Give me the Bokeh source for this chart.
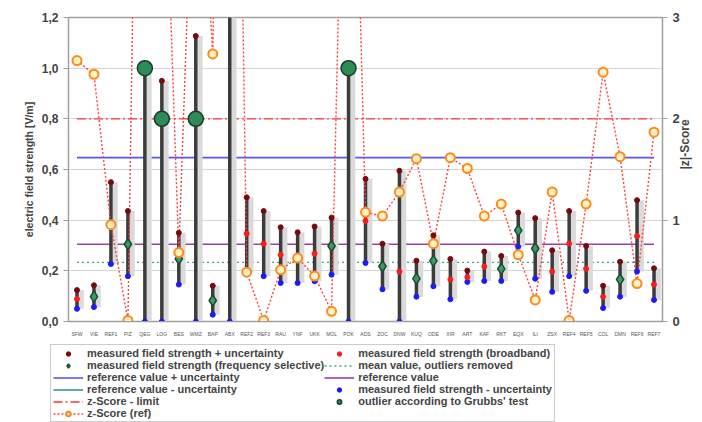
import math
from bokeh.plotting import figure
from bokeh.layouts import column
from bokeh.models import (Range1d, LinearAxis, FixedTicker, CustomJSTickFormatter,
                          Legend, LegendItem, ColumnDataSource, FactorRange)
from bokeh.transform import dodge
from bokeh.embed import file_html
from bokeh.resources import INLINE

NaN = float("nan")

cats = ["SFW", "VIE", "REF1", "PIZ", "QEG", "LOG", "BES", "WMZ", "BAP", "ABX",
        "REF2", "REF3", "RAU", "YNF", "UKK", "MOL", "POK", "ADS", "ZOC", "DNW",
        "KUQ", "ODE", "XIR", "ART", "KAF", "RKT", "EQX", "ILI", "ZSX", "REF4",
        "REF5", "COL", "DMN", "REF6", "REF7"]

upper = [0.124, 0.143, 0.55, 0.436, 1.0, 0.95, 0.35, 1.127, 0.141, 1.5,
         0.49, 0.436, 0.372, 0.352, 0.375, 0.41, 1.0, 0.563, 0.307, 0.595,
         0.24, 0.34, 0.247, 0.201, 0.276, 0.259, 0.43, 0.408, 0.281, 0.436,
         0.298, 0.141, 0.236, 0.479, 0.21]
lower = [0.05, 0.057, 0.227, 0.179, 0.0, 0.0, 0.146, 0.0, 0.027, 0.0,
         0.195, 0.179, 0.152, 0.152, 0.159, 0.185, 0.0, 0.231, 0.127, 0.0,
         0.098, 0.139, 0.088, 0.156, 0.16, 0.16, 0.295, 0.169, 0.117, 0.179,
         0.121, 0.053, 0.098, 0.197, 0.085]
broadband = [0.089, NaN, 0.385, NaN, NaN, NaN, NaN, NaN, NaN, NaN,
             0.347, 0.307, 0.263, 0.25, 0.268, NaN, NaN, 0.397, NaN, 0.197,
             NaN, NaN, 0.166, 0.175, 0.217, NaN, NaN, NaN, 0.197, 0.308,
             0.208, 0.098, NaN, 0.337, 0.146]
freq_sel = [NaN, 0.098, NaN, 0.305, NaN, NaN, 0.247, NaN, 0.083, NaN,
            NaN, NaN, NaN, NaN, NaN, 0.298, NaN, NaN, 0.218, NaN,
            0.169, 0.239, NaN, NaN, NaN, 0.208, 0.36, 0.288, NaN, NaN,
            NaN, NaN, 0.166, NaN, NaN]
outlier = [NaN, NaN, NaN, NaN, 1.0, 0.8, NaN, 0.8, NaN, NaN,
           NaN, NaN, NaN, NaN, NaN, NaN, 1.0, NaN, NaN, NaN,
           NaN, NaN, NaN, NaN, NaN, NaN, NaN, NaN, NaN, NaN,
           NaN, NaN, NaN, NaN, NaN]
zscore = [2.575, 2.44, 0.955, 0.01, 10.9, 5.6, 0.68, 5.5, 2.64, 12.0,
          0.487, 0.01, 0.51, 0.626, 0.448, 0.1, 7.5, 1.077, 1.04, 1.278,
          1.607, 0.768, 1.617, 1.51, 1.04, 1.159, 0.658, 0.213, 1.278, 0.01,
          1.159, 2.46, 1.626, 0.374, 1.868]

ref_value = 0.305
ref_plus = 0.647
ref_minus = -0.03
mean_wo_outliers = 0.233
z_limit = 2.0

y_ticks = [0.0, 0.2, 0.4, 0.6, 0.8, 1.0, 1.2]
z_ticks = [0, 1, 2, 3]

FONT = "Liberation Sans"

# styles
S_PLUS = dict(line_color="#5555ff", line_width=1.6)
S_MINUS = dict(line_color="#339999", line_width=1.6)
S_REF = dict(line_color="#9a3fa8", line_width=1.6)
S_MEAN = dict(line_color="#3aaa7a", line_width=1.3, line_dash="2 3")
S_LIM = dict(line_color="#ff3333", line_width=1.3, line_dash="9 3 2 3")
S_ZLINE = dict(line_color="#ff4040", line_width=1.4, line_dash="2 2")
S_UP = dict(marker="circle", size=5, fill_color="#7a0a0a", line_color="#7a0a0a")
S_LO = dict(marker="circle", size=5, fill_color="#1a1aff", line_color="#1a1aff")
S_BB = dict(marker="circle", size=5, fill_color="#ff1a1a", line_color="#ff1a1a")
S_FS = dict(marker="diamond", size=11, fill_color="#3c9a66", line_color="#1d4a30", line_width=1.5)
S_OUT = dict(marker="circle", size=15, fill_color="#2e8b57", line_color="#173d28", line_width=1.5)
S_Z = dict(marker="circle", size=9, fill_color="#fff2c4", line_color="#ff8a1a", line_width=2)

src = ColumnDataSource(dict(cat=cats, upper=upper, lower=lower, broadband=broadband,
                            freq_sel=freq_sel, outlier=outlier, z=zscore))

p = figure(width=702, height=339, x_range=FactorRange(*cats, range_padding=0),
           y_range=Range1d(0, 1.2), output_backend="svg", toolbar_location=None,
           min_border_left=68, min_border_right=40, min_border_top=17,
           min_border_bottom=12)
p.extra_y_ranges = {"z": Range1d(0, 3)}

p.outline_line_color = "#a0a0a0"
p.outline_line_width = 1.5
p.xgrid.grid_line_color = None
p.ygrid.ticker = FixedTicker(ticks=y_ticks)
p.ygrid.grid_line_color = "#d4d4d4"

# axes
p.yaxis.ticker = FixedTicker(ticks=y_ticks)
p.yaxis.formatter = CustomJSTickFormatter(code="return tick.toFixed(1).replace('.', ',');")
p.yaxis.axis_label = "electric field strength [V/m]"
p.yaxis.axis_label_text_font = FONT
p.yaxis.axis_label_text_font_style = "bold"
p.yaxis.axis_label_text_font_size = "10.5px"
p.yaxis.axis_label_standoff = 4
p.yaxis.major_label_text_font = FONT
p.yaxis.major_label_text_font_style = "bold"
p.yaxis.major_label_text_font_size = "12px"
p.yaxis.axis_line_color = "#a0a0a0"
p.yaxis.major_tick_line_color = "#a0a0a0"
p.yaxis.major_tick_out = 5
p.yaxis.major_tick_in = 0
p.yaxis.minor_tick_line_color = None

p.xaxis.major_label_text_font = FONT
p.xaxis.major_label_text_font_size = "5px"
p.xaxis.major_label_text_color = "#555555"
p.xaxis.axis_line_color = "#a0a0a0"
p.xaxis.major_tick_line_color = None
p.xaxis.major_label_standoff = 3

zaxis = LinearAxis(y_range_name="z", ticker=FixedTicker(ticks=z_ticks),
                   axis_label="|z|-Score")
zaxis.axis_label_text_font = FONT
zaxis.axis_label_text_font_style = "bold"
zaxis.axis_label_text_font_size = "12px"
zaxis.axis_label_standoff = 2
zaxis.axis_label_orientation = math.pi / 2
zaxis.major_label_text_font = FONT
zaxis.major_label_text_font_style = "bold"
zaxis.major_label_text_font_size = "13px"
zaxis.axis_line_color = "#a0a0a0"
zaxis.major_tick_line_color = "#a0a0a0"
zaxis.major_tick_out = 5
zaxis.major_tick_in = 0
zaxis.minor_tick_line_color = None
p.add_layout(zaxis, "right")

# reference lines
first, last = cats[0], cats[-1]
p.segment(x0=[first], x1=[last], y0=[ref_plus], y1=[ref_plus], **S_PLUS)
p.segment(x0=[first], x1=[last], y0=[ref_minus], y1=[ref_minus], **S_MINUS)
p.segment(x0=[first], x1=[last], y0=[ref_value], y1=[ref_value], **S_REF)
p.segment(x0=[first], x1=[last], y0=[mean_wo_outliers], y1=[mean_wo_outliers], **S_MEAN)
p.segment(x0=[first], x1=[last], y0=[z_limit], y1=[z_limit], y_range_name="z", **S_LIM)

# bars
p.vbar(x=dodge("cat", 0.2, range=p.x_range), width=0.4, top="upper", bottom="lower",
       fill_color="#dadada", line_color=None, source=src)
p.segment(x0="cat", y0="lower", x1="cat", y1="upper", line_color="#3c3c3c",
          line_width=3.5, source=src)

# z-score line
p.line(x="cat", y="z", y_range_name="z", source=src, **S_ZLINE)

# markers
p.scatter(x="cat", y="upper", source=src, **S_UP)
p.scatter(x="cat", y="lower", source=src, **S_LO)
p.scatter(x="cat", y="broadband", source=src, **S_BB)
p.scatter(x="cat", y="freq_sel", source=src, **S_FS)
p.scatter(x="cat", y="outlier", source=src, **S_OUT)
p.scatter(x="cat", y="z", y_range_name="z", source=src, **S_Z)

# legend panel (separate figure below the chart; sample glyphs lie outside its ranges)
q = figure(width=702, height=83, x_range=Range1d(0, 1), y_range=Range1d(0, 1),
           output_backend="svg", toolbar_location=None, x_axis_type=None,
           y_axis_type=None, min_border=0)
q.outline_line_color = None
q.xgrid.grid_line_color = None
q.ygrid.grid_line_color = None
e = lambda: ColumnDataSource(dict(x=[-5, -4], y=[-5, -4]))
l_up = q.scatter(x="x", y="y", source=e(), **S_UP)
l_fs = q.scatter(x="x", y="y", source=e(), **S_FS)
l_plus = q.line(x="x", y="y", source=e(), **S_PLUS)
l_minus = q.line(x="x", y="y", source=e(), **S_MINUS)
l_lim = q.line(x="x", y="y", source=e(), **S_LIM)
l_zl = q.line(x="x", y="y", source=e(), **S_ZLINE)
l_z = q.scatter(x="x", y="y", source=e(), **S_Z)
l_bb = q.scatter(x="x", y="y", source=e(), **S_BB)
l_mean = q.line(x="x", y="y", source=e(), **S_MEAN)
l_ref = q.line(x="x", y="y", source=e(), **S_REF)
l_lo = q.scatter(x="x", y="y", source=e(), **S_LO)
l_out = q.scatter(x="x", y="y", source=e(), **S_OUT)

items = [
    LegendItem(label="measured field strength + uncertainty", renderers=[l_up]),
    LegendItem(label="measured field strength (frequency selective)", renderers=[l_fs]),
    LegendItem(label="reference value + uncertainty", renderers=[l_plus]),
    LegendItem(label="reference value - uncertainty", renderers=[l_minus]),
    LegendItem(label="z-Score - limit", renderers=[l_lim]),
    LegendItem(label="z-Score (ref)", renderers=[l_zl, l_z]),
    LegendItem(label="measured field strength (broadband)", renderers=[l_bb]),
    LegendItem(label="mean value, outliers removed", renderers=[l_mean]),
    LegendItem(label="reference value", renderers=[l_ref]),
    LegendItem(label="measured field strength - uncertainty", renderers=[l_lo]),
    LegendItem(label="outlier according to Grubbs' test", renderers=[l_out]),
]
legend = Legend(items=items, location=(50, 0), nrows=6,
                label_text_font=FONT, label_text_font_style="bold",
                label_text_font_size="11px", label_height=11, glyph_height=11,
                glyph_width=30, label_standoff=4, spacing=0, padding=2, margin=0,
                border_line_color="#999999", background_fill_alpha=1.0)
q.add_layout(legend, "center")

open("out.html", "w").write(file_html(column(p, column(q, spacing=0), spacing=0), INLINE))
